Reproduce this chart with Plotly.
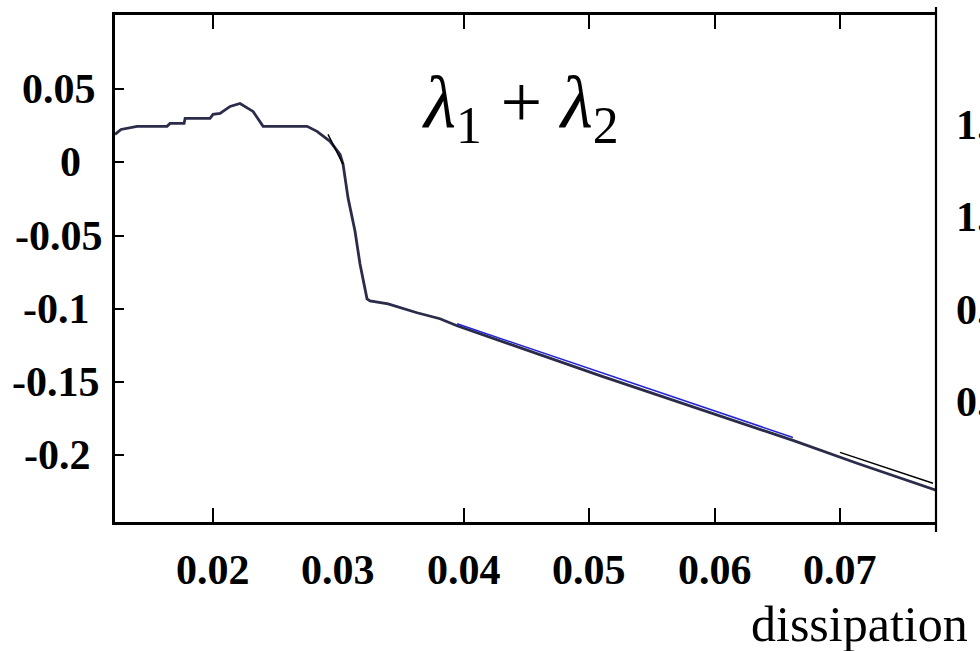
import plotly.graph_objects as go

# sum of the two leading Lyapunov exponents versus dissipation
dissipation = [0.01218, 0.01266, 0.01394, 0.01633, 0.01657, 0.01769, 0.01777, 0.01976,
               0.02000, 0.02056, 0.02136, 0.02215, 0.02319, 0.02399, 0.02750, 0.02829,
               0.02933, 0.03013, 0.03037, 0.03077, 0.03132, 0.03172, 0.03228, 0.03252,
               0.03396, 0.03491, 0.03627, 0.03810, 0.03946, 0.05086, 0.06625, 0.07136,
               0.07766]
lambda_sum = [0.0190, 0.0224, 0.0245, 0.0245, 0.0265, 0.0265, 0.0299, 0.0299,
              0.0327, 0.0333, 0.0381, 0.0401, 0.0347, 0.0245, 0.0245, 0.0211,
              0.0143, 0.0054, -0.0014, -0.0245, -0.0469, -0.0694, -0.0932, -0.0946,
              -0.0966, -0.0993, -0.1027, -0.1068, -0.1116, -0.1456, -0.1898, -0.2054,
              -0.2238]

# linear fit over the decaying branch
fit_x = [0.03946, 0.06625]
fit_y = [-0.1102, -0.1878]

# local tangents near the zero crossing and at the right end
tan1_x = [0.02917, 0.03037]
tan1_y = [0.0190, -0.0014]
tan2_x = [0.07000, 0.07742]
tan2_y = [-0.1980, -0.2190]

x_ticks = [0.02, 0.03, 0.04, 0.05, 0.06, 0.07]
x_labels = ["0.02", "0.03", "0.04", "0.05", "0.06", "0.07"]
x_tick_marks = [0.02, 0.04, 0.05, 0.06, 0.07]   # no mark is drawn at 0.03
y_ticks = [0.05, 0.0, -0.05, -0.1, -0.15, -0.2]
y_labels = ["0.05", "0", "-0.05", "-0.1", "-0.15", "-0.2"]

# tick labels of the neighbouring panel on the right
right_labels = ["1.", "1.", "0.", "0."]

X_RANGE = [0.01218, 0.07766]
Y_RANGE = [-0.2455, 0.1005]

W, H = 980, 651
L, R, T, B = 115, 44, 13, 129
plot_w = W - L - R
plot_h = H - T - B

SERIF = "Liberation Serif"
LABEL_FONT = dict(family=SERIF, size=42, color="black", weight="bold")
# horizontal centres (px) of the y tick labels in the left margin
Y_LABEL_CENTRES = [59, 70, 59, 56, 56, 57]


def px_x(p):
    return (p - L) / plot_w


def px_y(p):
    return (H - B - p) / plot_h


fig = go.Figure()
fig.add_trace(go.Scatter(x=dissipation, y=lambda_sum, mode="lines",
                         line=dict(color="#2b2b4a", width=2.8), showlegend=False))
fig.add_trace(go.Scatter(x=fit_x, y=fit_y, mode="lines",
                         line=dict(color="#2222d8", width=1.5), showlegend=False))
fig.add_trace(go.Scatter(x=tan1_x, y=tan1_y, mode="lines",
                         line=dict(color="black", width=1.5), showlegend=False))
fig.add_trace(go.Scatter(x=tan2_x, y=tan2_y, mode="lines",
                         line=dict(color="black", width=1.5), showlegend=False))

fig.update_xaxes(range=X_RANGE, showgrid=False, zeroline=False,
                 showline=True, linecolor="black", linewidth=2.5, mirror="ticks",
                 ticks="inside", ticklen=14, tickwidth=2.2, tickcolor="black",
                 tickvals=x_tick_marks, showticklabels=False)
fig.update_yaxes(range=Y_RANGE, showgrid=False, zeroline=False,
                 showline=True, linecolor="black", linewidth=2.5, mirror=False,
                 ticks="inside", ticklen=9, tickwidth=2.2, tickcolor="black",
                 tickvals=y_ticks, showticklabels=False)

# x tick labels below the box
for v, t in zip(x_ticks, x_labels):
    fig.add_annotation(x=v, xref="x", y=px_y(570), yref="paper", text=t,
                       showarrow=False, xanchor="center", yanchor="middle",
                       font=LABEL_FONT)

# y tick labels in the left margin
for v, t, cx in zip(y_ticks, y_labels, Y_LABEL_CENTRES):
    fig.add_annotation(x=px_x(cx), xref="paper", y=v, yref="y", text=t,
                       showarrow=False, xanchor="center", yanchor="middle",
                       font=LABEL_FONT)

# right frame line, running past the top and bottom of the box
fig.add_shape(type="line", xref="paper", yref="paper", x0=1, x1=1,
              y0=px_y(532), y1=px_y(5), line=dict(color="black", width=2.2))

for i, t in enumerate(right_labels):
    fig.add_annotation(x=px_x(954), xref="paper", y=px_y(123 + 93 * i), yref="paper",
                       text=t, showarrow=False, xanchor="left", yanchor="middle",
                       font=LABEL_FONT)

fig.add_annotation(x=px_x(520), xref="paper", y=px_y(106), yref="paper",
                   text="<i>λ</i><sub>1</sub> + <i>λ</i><sub>2</sub>",
                   showarrow=False, xanchor="center", yanchor="middle",
                   font=dict(family=SERIF, size=74, color="black"))

fig.add_annotation(x=px_x(970), xref="paper", y=px_y(624), yref="paper",
                   text="dissipation", showarrow=False, xanchor="right", yanchor="middle",
                   font=dict(family=SERIF, size=50, color="black"))

fig.update_layout(width=W, height=H, margin=dict(l=L, r=R, t=T, b=B),
                  paper_bgcolor="white", plot_bgcolor="white")

fig.write_html("out.html")
